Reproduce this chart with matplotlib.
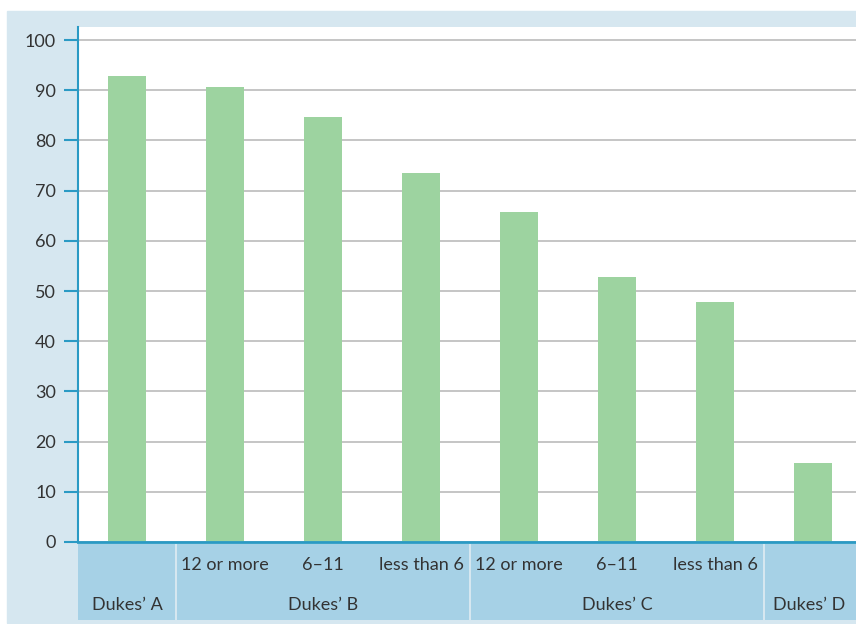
import matplotlib
matplotlib.use("Agg")
import matplotlib.pyplot as plt
from matplotlib.patches import Rectangle

# data
sub_labels = ["", "12 or more", "6\u201311", "less than 6",
              "12 or more", "6\u201311", "less than 6", ""]
values = [92.8, 90.6, 84.7, 73.5, 65.8, 52.8, 47.8, 15.8]
groups = ["Dukes\u2019 A", "Dukes\u2019 B", "Dukes\u2019 C", "Dukes\u2019 D"]
group_spans = [(0, 0), (1, 3), (4, 6), (7, 7)]
yticks = [0, 10, 20, 30, 40, 50, 60, 70, 80, 90, 100]

frame_col = "#d6e7f0"
cell_col = "#a6d1e6"
bar_col = "#9dd3a0"
axis_col = "#2a9ac4"
text_col = "#333333"

plt.rcParams["font.family"] = ["Lato", "DejaVu Sans"]

W, H = 856, 624
fig = plt.figure(figsize=(W / 100, H / 100), dpi=100, facecolor="white")

# light blue frame behind everything
fig.patches.append(Rectangle((7 / W, 1 - 623 / H), 1 - 7 / W, (623 - 11) / H,
                             transform=fig.transFigure, color=frame_col, zorder=-10))

# main bar axes (runs a little past the right edge, as in the original)
x0, x1 = 78, 862
ax = fig.add_axes([x0 / W, 1 - 542 / H, (x1 - x0) / W, (542 - 27) / H])
ax.set_facecolor("white")
x = list(range(len(values)))
ax.bar(x, values, width=0.39, color=bar_col, zorder=3)
ax.set_xlim(-0.5, len(values) - 0.5)
ax.set_ylim(0, 102.6)
ax.set_yticks(yticks)
ax.set_yticklabels([str(t) for t in yticks], fontsize=13, color=text_col)
ax.tick_params(axis="y", length=10, width=1.5, color=axis_col, pad=6)
ax.set_xticks([])
ax.grid(axis="y", color="#bbbbbb", linewidth=1.2, zorder=1)
for s in ["top", "right"]:
    ax.spines[s].set_visible(False)
ax.spines["left"].set_color(axis_col)
ax.spines["left"].set_linewidth(1.5)
ax.spines["bottom"].set_color(axis_col)
ax.spines["bottom"].set_linewidth(2)
ax.spines["bottom"].set_zorder(4)

# category table below the bars
tab = fig.add_axes([x0 / W, 1 - 620 / H, (x1 - x0) / W, (620 - 544) / H])
tab.set_xlim(ax.get_xlim())
tab.set_ylim(0, 2)
tab.axis("off")
gap = 0.015
for (a, b), name in zip(group_spans, groups):
    left = a - 0.5 + (gap if a > 0 else 0)
    right = b + 0.5 - (gap if b < len(values) - 1 else 0)
    tab.add_patch(Rectangle((left, 0), right - left, 2, color=cell_col, lw=0))
    cx = (a + b) / 2 if a != b else a
    if a == len(values) - 1:
        cx -= 0.04
    tab.text(cx, 0.4, name, ha="center", va="center",
             fontsize=13, color=text_col)
for i, lab in enumerate(sub_labels):
    if lab:
        tab.text(i, 1.45, lab, ha="center", va="center", fontsize=13, color=text_col)

fig.savefig("out.png", dpi=100, facecolor="white")
